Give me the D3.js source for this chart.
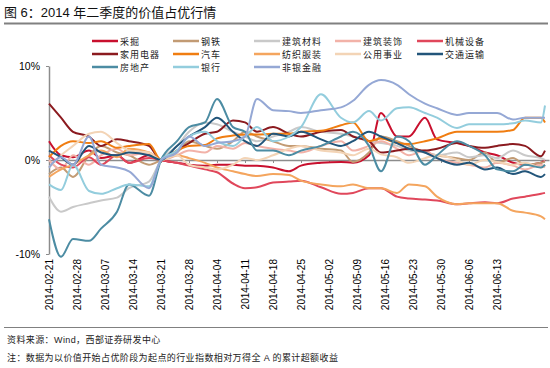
<!DOCTYPE html>
<html>
<head>
<meta charset="utf-8">
<script src="https://cdn.jsdelivr.net/npm/d3@7"></script>
<style>
  body { margin: 0; background: #fff; }
  svg { display: block; font-family: "Liberation Sans", "Noto Sans CJK SC", sans-serif; }
</style>
</head>
<body>
<div id="chart"></div>
<script>
// trading dates sampled from the chart (cumulative excess return, %)
const dates = ["2014-02-21","2014-02-24","2014-02-27","2014-03-03","2014-03-06","2014-03-10",
  "2014-03-13","2014-03-18","2014-03-21","2014-03-25","2014-03-28","2014-04-01",
  "2014-04-04","2014-04-08","2014-04-11","2014-04-14","2014-04-18","2014-04-22",
  "2014-04-25","2014-04-30","2014-05-05","2014-05-08","2014-05-12","2014-05-15",
  "2014-05-19","2014-05-22","2014-05-26","2014-05-29","2014-06-03","2014-06-06",
  "2014-06-10","2014-06-13","2014-06-17","2014-06-20","2014-06-24","2014-06-25"];

const tickDates = ["2014-02-21","2014-02-28","2014-03-07","2014-03-14","2014-03-21","2014-03-28",
  "2014-04-04","2014-04-11","2014-04-18","2014-04-25","2014-05-02","2014-05-09",
  "2014-05-16","2014-05-23","2014-05-30","2014-06-06","2014-06-13"];

const yTicks = [-10, 0, 10];

const caijue     = [2.0,0.5,0.3,1.0,0.2,0.5,-0.3,0.5,0,-0.3,-0.5,-0.6,-0.5,-0.5,-0.6,-0.6,-0.8,-1.2,-0.6,-0.3,-0.2,-0.3,0.5,5.0,2.5,2.5,4.5,2.2,1.8,1.5,0.8,0.5,-0.3,-0.5,-0.3,0.0];
const gangtie    = [-1.5,-0.8,-1.8,0.5,1.5,0.8,0.5,-0.5,0,0.8,2.0,1.5,1.2,2.0,3.0,2.5,2.0,1.5,1.5,1.2,1.0,-0.2,0.8,2.5,2.0,1.5,0.8,0.5,0.2,0.0,0.8,-0.3,0.2,-0.5,-0.3,-0.2];
const jiancai    = [-3.9,-5.5,-5.0,-4.6,-4.3,-4.0,-3.0,-2.3,0,1.5,3.0,4.0,3.8,3.0,2.5,2.0,2.5,3.0,3.5,3.0,2.8,2.5,2.0,1.8,1.5,1.0,0.8,0.5,0.8,0.3,0.5,0.2,1.0,0.5,0.2,0.0];
const jianzhuang = [0.0,-1.0,0.5,-0.5,0.5,1.2,0.5,0.8,0,0.5,1.0,0.8,1.5,1.2,1.8,1.5,1.2,1.0,0.8,1.5,2.0,1.0,1.5,2.0,1.2,0.5,1.0,0.2,-0.3,-0.5,-0.8,-0.3,-0.6,-1.0,-0.5,-0.8];
const jixie      = [0.5,-0.5,-0.8,0.3,-0.5,0.5,-0.3,0.2,0,-0.3,-0.6,-1.0,-1.3,-2.5,-3.0,-2.9,-2.4,-2.3,-2.2,-2.9,-3.6,-3.5,-3.0,-3.0,-3.9,-4.1,-4.2,-4.3,-4.7,-4.6,-4.5,-4.6,-4.1,-3.9,-3.6,-3.5];
const jiadian    = [6.0,4.5,3.0,2.5,1.5,2.2,2.0,1.5,0,1.0,1.8,2.8,3.0,4.2,4.0,3.0,3.5,2.8,2.5,3.0,3.2,2.5,2.0,0.8,1.0,1.2,1.0,1.2,1.8,1.5,1.3,1.5,1.7,1.5,0.4,1.0];
const qiche      = [0.3,1.5,2.0,1.8,2.0,1.3,1.5,1.7,0,1.0,1.5,1.6,2.3,2.6,2.7,2.7,2.8,2.8,3.0,3.1,3.7,4.0,2.0,2.3,1.8,1.7,2.0,2.3,3.0,3.0,3.0,3.0,3.2,4.5,4.5,4.0];
const fangzhi    = [-1.8,-1.0,-0.5,0.5,1.0,0.3,1.2,0.8,0,0.5,0.2,-0.3,-0.8,-1.2,-1.5,-1.7,-1.5,-1.6,-2.2,-2.6,-2.8,-2.6,-3.0,-3.0,-3.5,-2.6,-2.8,-3.9,-4.7,-4.6,-4.6,-4.6,-5.4,-5.6,-6.0,-6.3];
const gongyong   = [-0.8,0.5,1.5,2.8,3.0,1.8,1.0,0.8,0,0.5,-0.5,-0.8,-1.0,-0.5,0.2,0.0,0.5,1.2,1.5,1.0,0.8,0.5,1.2,0.6,0.3,-0.3,0.2,0.5,0.0,-0.5,0.0,-0.2,-0.5,-0.3,-0.8,-0.5];
const jiaotong   = [1.0,0.3,-0.5,1.5,0.8,0.5,0.8,0.5,0,1.5,2.5,3.5,4.5,3.0,2.0,1.5,2.8,2.5,3.0,2.2,1.5,2.0,3.0,2.5,1.8,1.2,0.8,0.2,-0.5,-0.3,-1.0,-0.8,-1.5,-1.2,-1.8,-1.5];
const fangdichan = [-6.3,-10.3,-8.4,-8.6,-7.3,-5.5,-2.6,-3.8,0,2.0,3.5,4.0,6.5,3.5,3.0,1.0,1.0,0.5,1.0,1.5,2.5,3.0,1.5,-1.2,2.5,2.0,-0.5,0.5,2.0,1.5,0.5,-1.0,-1.2,-0.5,-0.8,-0.5];
const yinhang    = [-2.6,-3.2,-0.5,-3.3,-3.6,-3.0,-2.6,-2.8,0,1.0,2.5,3.0,2.0,1.5,2.5,3.5,2.0,2.5,3.5,7.0,4.5,4.0,5.2,4.2,5.5,5.6,5.0,4.5,3.4,3.8,3.8,3.8,3.9,4.2,4.0,5.8];
const feiyin     = [-0.8,0.3,-0.5,2.5,-0.5,-0.8,-1.2,-3.0,0,0.8,2.5,1.5,1.8,2.0,2.5,6.5,5.3,5.2,5.0,5.3,5.6,6.3,8.0,8.5,8.0,7.0,6.0,5.5,4.8,5.0,5.0,5.0,4.3,4.5,4.5,4.5];

const seriesNames = ["采掘","钢铁","建筑材料","建筑装饰","机械设备",
  "家用电器","汽车","纺织服装","公用事业","交通运输",
  "房地产","银行","非银金融"];
const seriesValues = [caijue, gangtie, jiancai, jianzhuang, jixie,
  jiadian, qiche, fangzhi, gongyong, jiaotong,
  fangdichan, yinhang, feiyin];

const colors = {
  "采掘": "#c8102e", "钢铁": "#c29b74", "建筑材料": "#c9c9c9", "建筑装饰": "#f2b2a8",
  "机械设备": "#e0475b", "家用电器": "#8b1a1f", "汽车": "#f07d11", "纺织服装": "#f4a55e",
  "公用事业": "#f3d4b6", "交通运输": "#22557a", "房地产": "#4c8ca3", "银行": "#93cddd",
  "非银金融": "#95a8d5"
};

const W = 550, H = 368;
const parse = d3.utcParse("%Y-%m-%d");
const fmt = d3.utcFormat("%Y-%m-%d");

const svg = d3.select("#chart").append("svg")
  .attr("width", W).attr("height", H);

svg.append("rect").attr("width", W).attr("height", H).attr("fill", "#fff");

// title + rules
svg.append("text").attr("x", 4).attr("y", 17)
  .attr("font-size", 13).attr("fill", "#111")
  .text("图 6：2014 年二季度的价值占优行情");
svg.append("line").attr("x1", 4).attr("x2", 548).attr("y1", 23.5).attr("y2", 23.5)
  .attr("stroke", "#808080").attr("stroke-width", 2);
svg.append("line").attr("x1", 4).attr("x2", 548).attr("y1", 327.5).attr("y2", 327.5)
  .attr("stroke", "#808080").attr("stroke-width", 1);

const x = d3.scaleUtc()
  .domain([parse("2014-02-21"), parse("2014-06-26")])
  .range([49, 549]);
const y = d3.scaleLinear().domain([-10, 10]).range([254, 66]);
const y0 = y(0);

// axes
const yAxis = svg.append("g").attr("transform", "translate(49,0)")
  .call(d3.axisLeft(y).tickValues(yTicks).tickFormat(d => d + "%").tickSize(3).tickSizeOuter(0).tickPadding(6));
yAxis.select(".domain").attr("stroke", "#8c8c8c").attr("stroke-width", 1.5);
yAxis.selectAll(".tick line").attr("stroke", "#8c8c8c");
yAxis.selectAll("text").attr("font-size", 10.5).attr("fill", "#000")
  .attr("font-family", "Liberation Sans, Arial, sans-serif");

const xAxis = svg.append("g").attr("transform", `translate(0,${y0})`)
  .call(d3.axisBottom(x).tickValues(tickDates.map(parse)).tickFormat(fmt).tickSize(3).tickSizeOuter(0));
xAxis.select(".domain").attr("stroke", "#8c8c8c").attr("stroke-width", 1.5);
xAxis.selectAll(".tick line").attr("stroke", "#8c8c8c");
xAxis.selectAll("text")
  .attr("font-size", 10).attr("fill", "#000")
  .attr("font-family", "Liberation Sans, Arial, sans-serif")
  .attr("x", 0).attr("y", 0).attr("dy", null)
  .attr("text-anchor", "end")
  .attr("transform", `translate(3.5,${259 - y0}) rotate(-90)`);

// lines
const line = d3.line()
  .x((d, i) => x(parse(dates[i])))
  .y(d => y(d))
  .curve(d3.curveMonotoneX);

svg.append("g").selectAll("path")
  .data(seriesNames)
  .join("path")
  .attr("d", (name, i) => line(seriesValues[i]))
  .attr("fill", "none")
  .attr("stroke", name => colors[name])
  .attr("stroke-width", 2)
  .attr("stroke-linejoin", "round");

// legend
const legendX = [92, 173, 254, 335, 417];
const legendY = [41, 54, 67];
const legend = svg.append("g").selectAll("g")
  .data(seriesNames)
  .join("g")
  .attr("transform", (d, i) => `translate(${legendX[i % 5]},${legendY[Math.floor(i / 5)]})`);
legend.append("line").attr("x1", 0).attr("x2", 26).attr("y1", 0).attr("y2", 0)
  .attr("stroke", d => colors[d]).attr("stroke-width", 2.5);
legend.append("text").attr("x", 28).attr("y", 3.5)
  .attr("font-size", 9).attr("letter-spacing", 1).attr("fill", "#222")
  .text(d => d);

// notes
svg.append("text").attr("x", 7).attr("y", 343)
  .attr("font-size", 9).attr("letter-spacing", 0.4).attr("fill", "#222")
  .text("资料来源：Wind，西部证券研发中心");
svg.append("text").attr("x", 7).attr("y", 361)
  .attr("font-size", 9).attr("letter-spacing", 0.4).attr("fill", "#222")
  .text("注：数据为以价值开始占优阶段为起点的行业指数相对万得全 A 的累计超额收益");
</script>
</body>
</html>
